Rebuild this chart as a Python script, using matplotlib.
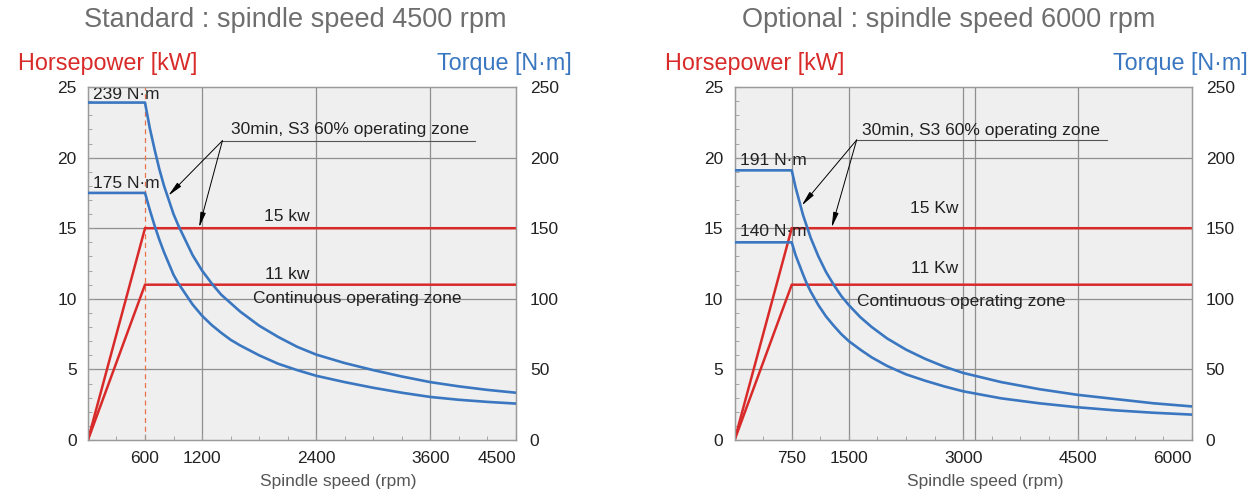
import matplotlib
matplotlib.use("Agg")
import matplotlib.pyplot as plt
import matplotlib.ticker as mticker

plt.rcParams["font.family"] = ["Liberation Sans", "DejaVu Sans"]

# ---------------------------------------------------------------------------
# Data
# ---------------------------------------------------------------------------
# Standard spindle, 4500 rpm
STD_POWER_RPM = [0, 600, 4500]
STD_POWER_S3 = [0, 15, 15]          # kW
STD_POWER_CONT = [0, 11, 11]        # kW
STD_TQ_RPM = [0, 600, 625, 650, 700, 750, 800, 850, 900, 950, 1000, 1100,
              1200, 1300, 1400, 1500, 1600, 1800, 2000, 2200, 2400, 2700,
              3000, 3300, 3600, 3900, 4200, 4500]
STD_TQ_S3 = [239, 239, 230, 221, 206, 192, 180, 170, 160, 152, 145, 131,
             120, 111, 103, 97, 91, 81, 73, 66, 60.5, 54.5,
             49.5, 45, 41, 38, 35.5, 33.5]                     # N·m
STD_TQ_CONT = [175, 175, 169, 163, 152, 142, 133, 125, 117, 111, 106, 96,
               88, 81.5, 76, 71, 67, 60, 54, 49.5, 45.5, 41,
               37, 33.5, 30.5, 28.5, 27, 25.8]                 # N·m
STD_XTICKS = [600, 1200, 2400, 3600, 4500]
STD_XGRID = [1200, 2400, 3600]

# Optional spindle, 6000 rpm
OPT_POWER_RPM = [0, 750, 6000]
OPT_POWER_S3 = [0, 15, 15]
OPT_POWER_CONT = [0, 11, 11]
OPT_TQ_RPM = [0, 750, 775, 800, 850, 900, 950, 1000, 1100, 1200, 1300,
              1400, 1500, 1650, 1800, 2000, 2250, 2500, 2750, 3000, 3500,
              4000, 4500, 5000, 5500, 6000]
OPT_TQ_S3 = [191, 191, 185, 179, 169, 159, 151, 143, 130, 119, 110,
             102, 95.5, 87, 80, 72, 64, 57.5, 52, 47.5, 41,
             36, 32, 29, 26, 23.8]
OPT_TQ_CONT = [140, 140, 135.5, 131, 124, 117, 110.5, 105, 95.5, 87.5, 81,
               75, 70, 64, 58.5, 52.5, 46.5, 42, 38, 34.5, 29.5,
               26, 23.2, 21, 19.3, 18]
OPT_XTICKS = [750, 1500, 3000, 4500, 6000]
OPT_XGRID = [750, 1500, 3000, 3150, 4500]

RED = "#d92a2a"
BLUE = "#3a77c0"
GRID = "#8f8f8f"
BG = "#efefef"
TXT = "#222222"

fig = plt.figure(figsize=(12.51, 4.99), dpi=100)


def panel(rect, title, xmax, minor_step, xticks, xgrid, knee_dashed,
          p_rpm, p_s3, p_cont, t_rpm, t_s3, t_cont, s3_label, cont_label,
          tq_high, tq_low, ann):
    ax = fig.add_axes(rect)
    ax.set_facecolor(BG)
    ax.set_xlim(0, xmax)
    ax.set_ylim(0, 25)

    # grid
    for y in [5, 10, 15, 20]:
        ax.axhline(y, color=GRID, lw=0.9, zorder=1)
    for x in xgrid:
        ax.axvline(x, color=GRID, lw=0.9, zorder=1)
    if knee_dashed is not None:
        ax.axvline(knee_dashed, color="#e8704a", lw=0.9, ls=(0, (4, 3)), zorder=1)

    # power lines
    ax.plot(p_rpm, p_s3, color=RED, lw=1.8, zorder=3, solid_joinstyle="miter")
    ax.plot(p_rpm, p_cont, color=RED, lw=1.8, zorder=3, solid_joinstyle="miter")

    # torque lines on twin axis
    ax2 = ax.twinx()
    ax2.set_ylim(0, 250)
    ax2.plot(t_rpm, t_s3, color=BLUE, lw=1.9, zorder=3)
    ax2.plot(t_rpm, t_cont, color=BLUE, lw=1.9, zorder=3)

    for a in (ax, ax2):
        for s in a.spines.values():
            s.set_color("#9a9a9a")
            s.set_linewidth(0.9)

    ax.set_xticks(xticks)
    labels = [str(v) for v in xticks]
    ax.set_xticklabels(labels, fontsize=12.5, color=TXT)
    ax.get_xticklabels()[-1].set_horizontalalignment("right")
    ax.xaxis.set_minor_locator(mticker.MultipleLocator(minor_step))
    ax.set_yticks([0, 5, 10, 15, 20, 25])
    ax.yaxis.set_minor_locator(mticker.MultipleLocator(1))
    ax.tick_params(axis="both", which="both", direction="in", colors="#9a9a9a",
                   labelcolor=TXT, labelsize=12.5)
    ax.tick_params(axis="both", which="major", length=4, pad=8)
    ax.tick_params(axis="both", which="minor", length=3)
    ax2.set_yticks([0, 50, 100, 150, 200, 250])
    ax2.tick_params(axis="y", direction="in", length=0, pad=10,
                    labelsize=12.5, labelcolor=TXT)
    ax.set_xlabel("Spindle speed (rpm)", fontsize=12.5, color="#555555")
    ax.xaxis.set_label_coords(ann["xl_x"], -0.096)

    # headers
    x0, y0, w, h = rect
    fig.text(ann["title_x"], 0.96, title, ha="center", va="center",
             fontsize=19.5, color="#6e6e6e")
    fig.text(x0 - 0.056, 0.873, "Horsepower [kW]", ha="left", va="center",
             fontsize=16.8, color=RED)
    fig.text(x0 + w + 0.045, 0.873, "Torque [N\u00b7m]", ha="right", va="center",
             fontsize=16.8, color=BLUE)

    # annotations
    fs = 12.5
    ax.text(ann["nm_x"], ann["nm_hi_y"], tq_high, fontsize=fs, color=TXT,
            va="center", ha="left", zorder=5)
    ax.text(ann["nm_x"], ann["nm_lo_y"], tq_low, fontsize=fs, color=TXT,
            va="center", ha="left", zorder=5)
    ax.text(ann["s3_x"], ann["s3_y"], "30min, S3 60% operating zone",
            fontsize=fs, color=TXT, va="center", ha="left", zorder=5)
    ax.plot([ann["ul_x0"], ann["ul_x1"]], [ann["ul_y"], ann["ul_y"]],
            color="#555555", lw=0.8, zorder=4)
    for tx, ty in ann["tips"]:
        ax.annotate("", xy=(tx, ty), xytext=(ann["ul_x0"], ann["ul_y"]),
                    arrowprops=dict(arrowstyle="-|>,head_length=0.9,head_width=0.16",
                                    color="black", lw=0.7, shrinkA=0, shrinkB=0),
                    zorder=5)
    ax.text(ann["kw_x"], ann["kw15_y"], s3_label, fontsize=fs, color=TXT,
            va="center", ha="right", zorder=5)
    ax.text(ann["kw_x"], ann["kw11_y"], cont_label, fontsize=fs, color=TXT,
            va="center", ha="right", zorder=5)
    ax.text(ann["cz_x"], ann["cz_y"], "Continuous operating zone", fontsize=fs,
            color=TXT, va="center", ha="left", zorder=5)
    return ax


panel([0.0703, 0.1182, 0.3421, 0.7074], "Standard : spindle speed 4500 rpm",
      4500, 300, STD_XTICKS, STD_XGRID, 600,
      STD_POWER_RPM, STD_POWER_S3, STD_POWER_CONT,
      STD_TQ_RPM, STD_TQ_S3, STD_TQ_CONT, "15 kw", "11 kw",
      "239 N\u00b7m", "175 N\u00b7m",
      dict(nm_x=50, nm_hi_y=24.5, nm_lo_y=18.2, s3_x=1500, s3_y=22.0,
           ul_x0=1414, ul_x1=4073, ul_y=21.2,
           tips=[(844, 17.3), (1169, 15.05)],
           kw_x=2330, kw15_y=15.8, kw11_y=11.7, cz_x=1734, cz_y=10.0,
           xl_x=0.585, title_x=0.236))

panel([0.5872, 0.1182, 0.3655, 0.7074], "Optional : spindle speed 6000 rpm",
      6000, 375, OPT_XTICKS, OPT_XGRID, None,
      OPT_POWER_RPM, OPT_POWER_S3, OPT_POWER_CONT,
      OPT_TQ_RPM, OPT_TQ_S3, OPT_TQ_CONT, "15 Kw", "11 Kw",
      "191 N\u00b7m", "140 N\u00b7m",
      dict(nm_x=70, nm_hi_y=19.8, nm_lo_y=14.75, s3_x=1668, s3_y=21.9,
           ul_x0=1602, ul_x1=4883, ul_y=21.25,
           tips=[(880, 16.6), (1274, 15.05)],
           kw_x=2936, kw15_y=16.4, kw11_y=12.15, cz_x=1602, cz_y=9.8,
           xl_x=0.548, title_x=0.758))

fig.savefig("out.png", dpi=100)
